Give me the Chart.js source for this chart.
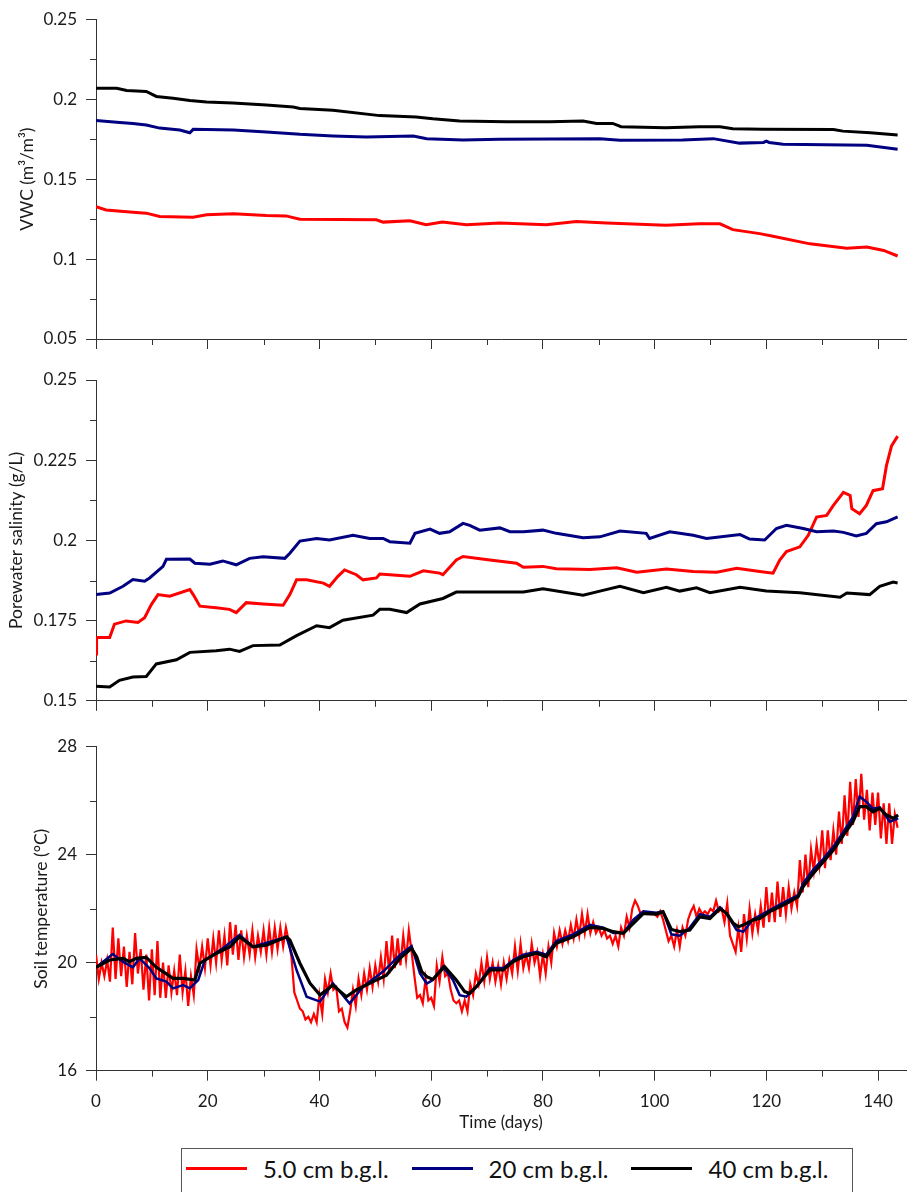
<!DOCTYPE html>
<html>
<head>
<meta charset="utf-8">
<title>Soil monitoring at three depths</title>
<script src="https://cdn.jsdelivr.net/npm/chart.js@4.4.1/dist/chart.umd.min.js"></script>
<style>
  html, body { margin: 0; padding: 0; background: #fff; }
  body { width: 907px; height: 1192px; position: relative; overflow: hidden; font-family: Lato, sans-serif; }
  canvas { position: absolute; left: 0; }
  #legend {
    position: absolute; left: 181px; top: 1148px; width: 672px; height: 70px;
    border: 1px solid #555; box-sizing: border-box;
    display: flex; align-items: center; padding: 0 0 30px 4px;
    font-family: Lato, sans-serif; font-size: 24px; color: #111;
  }
  .item { display: flex; align-items: center; margin-right: 23px; white-space: nowrap; }
  .item:nth-child(3) { margin-right: 0; }
  .swatch { width: 61px; height: 3px; margin-right: 16px; }
</style>
</head>
<body>
<canvas id="vwc" width="907" height="360" style="top:0px"></canvas>
<canvas id="sal" width="907" height="360" style="top:360px"></canvas>
<canvas id="temp" width="907" height="420" style="top:720px"></canvas>
<div id="legend"></div>
<script>
// ---- Series names and colours (sensor depth below ground level) ----
const depthLabels = ['5.0 cm b.g.l.', '20 cm b.g.l.', '40 cm b.g.l.'];
const depthColors = ['#ff0000', '#000080', '#000000'];

// ---- Shared time axis (days) ----
const dayTicks = [0, 20, 40, 60, 80, 100, 120, 140];
const dayMinor = [10, 30, 50, 70, 90, 110, 130];

// ---- Volumetric water content, m³/m³ : [day, value] ----
const vwcTicks = [0.05, 0.1, 0.15, 0.2, 0.25];
const vwcMinor = [0.075, 0.125, 0.175, 0.225];
const vwc5cm = [[0,0.1328],[1.8,0.1307],[6.6,0.1293],[9,0.1287],[11.4,0.1266],[17.4,0.1262],[19.8,0.1277],[24.6,0.1283],[30.5,0.1272],[34,0.127],[36.5,0.1249],[50.2,0.1246],[51.4,0.1231],[56.2,0.1239],[59.1,0.1215],[62,0.1231],[66.3,0.1215],[72.3,0.1225],[80.6,0.1215],[86,0.1235],[91.4,0.1225],[102,0.1211],[108,0.1221],[111.7,0.122],[114,0.1184],[118.8,0.1159],[121.2,0.1143],[127.8,0.1095],[134.4,0.1067],[138,0.1075],[141,0.1054],[143.5,0.1019]];
const vwc20cm = [[0,0.1867],[3.7,0.1856],[6.6,0.1848],[9,0.1838],[11.4,0.1819],[15,0.1807],[16.8,0.179],[17.4,0.1811],[24.6,0.1807],[30.5,0.1795],[36.5,0.178],[42.4,0.177],[48.4,0.1764],[56.8,0.177],[59.2,0.1753],[65.7,0.1745],[72.3,0.1749],[90.2,0.1753],[93.8,0.1743],[105,0.1745],[110.5,0.1753],[115.2,0.1725],[119.5,0.1729],[120,0.1737],[120.5,0.1729],[123,0.1718],[138,0.1712],[143.5,0.1687]];
const vwc40cm = [[0,0.2068],[3.7,0.2068],[5.5,0.2054],[9,0.2048],[10.8,0.2017],[13.8,0.2006],[16.8,0.1992],[19.8,0.1982],[24.5,0.1976],[30.5,0.1963],[35.3,0.1951],[36.5,0.1942],[42.4,0.193],[50.8,0.1897],[57.3,0.1889],[60.3,0.1877],[65.1,0.1863],[73.5,0.1858],[81.2,0.1858],[87.2,0.1863],[89.6,0.1848],[92.5,0.1848],[94,0.1828],[102,0.1821],[108,0.1828],[111.7,0.1828],[114,0.1815],[119.4,0.1811],[132,0.181],[133.7,0.18],[138.6,0.179],[143.5,0.1776]];

// ---- Porewater salinity, g/L : [day, value] ----
const salTicks = [0.15, 0.175, 0.2, 0.225, 0.25];
const salMinor = [0.1625, 0.1875, 0.2125, 0.2375];
const sal5cm = [[0,0.1646],[0.1,0.1697],[2.45,0.1697],[3.3,0.1739],[5.4,0.1749],[7.5,0.1744],[8.7,0.1759],[9.9,0.18],[11.1,0.1831],[13.2,0.1826],[16.8,0.1847],[17.4,0.1831],[18.6,0.1795],[21.5,0.179],[23.9,0.1785],[25.1,0.1775],[26.9,0.1806],[29.9,0.1802],[33.5,0.1798],[34.7,0.1831],[35.9,0.1877],[37.7,0.1877],[40.7,0.1867],[41.8,0.1857],[43.3,0.1888],[44.5,0.1908],[46.6,0.1893],[47.8,0.1877],[50.2,0.1883],[50.8,0.1895],[52.6,0.1893],[56.2,0.1888],[58.6,0.1905],[61.5,0.1898],[62.1,0.1893],[64.5,0.1939],[65.7,0.195],[70.5,0.1939],[75.3,0.1929],[76.5,0.1916],[80,0.1919],[82.4,0.1912],[88.4,0.1909],[93.2,0.1915],[96.8,0.1901],[102.1,0.1911],[106.9,0.1903],[111.1,0.1901],[114.7,0.1913],[118.8,0.1903],[121.2,0.1898],[122.4,0.1939],[123.6,0.1965],[126,0.198],[127.5,0.2016],[129,0.2073],[130.8,0.2078],[132,0.2109],[133.8,0.215],[135,0.214],[135.3,0.2099],[136.7,0.2083],[137.9,0.2109],[139.1,0.2155],[140.8,0.2161],[141.5,0.2233],[142.4,0.2294],[143.5,0.2325]];
const sal20cm = [[0,0.1831],[2.45,0.1836],[4.84,0.1857],[6.6,0.1878],[8.7,0.1873],[9.6,0.1883],[12,0.1919],[12.6,0.1941],[16.8,0.1942],[17.7,0.1929],[20.4,0.1926],[22.7,0.1936],[25.1,0.1924],[27.5,0.1944],[29.9,0.1949],[33.8,0.1944],[34.7,0.196],[36.5,0.1998],[39.5,0.2006],[41.8,0.2001],[46,0.2016],[49,0.2006],[51.4,0.2006],[52.6,0.1996],[56.2,0.1991],[57.1,0.2022],[59.8,0.2035],[61.5,0.2022],[63.3,0.2027],[65.7,0.2053],[66.9,0.2047],[68.7,0.2032],[72.3,0.2039],[74.1,0.2027],[76.5,0.2027],[80,0.2032],[82.4,0.2022],[87.2,0.2008],[90.2,0.2011],[93.8,0.2029],[98.5,0.2022],[99.1,0.2006],[102.7,0.2027],[106.9,0.2016],[109.3,0.2006],[115.3,0.2018],[117,0.2004],[119.7,0.2001],[121.8,0.2037],[123.6,0.2047],[126.6,0.2037],[129,0.2027],[132,0.2029],[133.8,0.2025],[136.1,0.2014],[137.9,0.2022],[139.7,0.2052],[141.5,0.2058],[143.5,0.2073]];
const sal40cm = [[0,0.1545],[2.45,0.1543],[4.2,0.1564],[6.6,0.1574],[9,0.1576],[10.8,0.1615],[14.4,0.1628],[16.8,0.1651],[21.5,0.1656],[23.9,0.1661],[25.7,0.1654],[28.1,0.1672],[32.9,0.1674],[35.9,0.1703],[39.5,0.1734],[41.8,0.1728],[44.2,0.1751],[49.6,0.1767],[50.8,0.1785],[52.6,0.1785],[55.6,0.1775],[58,0.1802],[62.1,0.1819],[64.5,0.1839],[70.5,0.1839],[76.5,0.1839],[80,0.1849],[87.2,0.1829],[90.2,0.1842],[93.8,0.1857],[98,0.1837],[102.1,0.1854],[104.5,0.1842],[107.5,0.1852],[109.9,0.1837],[115.3,0.1854],[120,0.1842],[126,0.1837],[133.2,0.1823],[134.4,0.1836],[138.5,0.1831],[140.3,0.1857],[142.7,0.187],[143.5,0.1867]];

// ---- Soil temperature, °C ----
const tempTicks = [16, 20, 24, 28];
const tempMinor = [18, 22, 26];
// 5 cm sensor: readings every half day, starting at day 0
const tempStep5cm = 0.5;
const temp5cm = [
  20.3,19.4, 20.0,19.5, 20.1,19.3, 21.3,19.4, 20.9,19.5, 20.6,19.1, 20.4,19.2, 21.1,19.6, 20.5,19.0, 20.3,18.6,
  20.5,18.8, 20.8,18.7, 20.0,18.7, 19.9,18.9, 19.7,18.8, 20.3,18.9, 19.7,18.4, 19.5,18.8, 20.5,19.8, 20.6,19.8,
  20.9,19.9, 20.9,20.0, 21.2,20.1, 21.0,19.9, 21.5,20.3, 21.4,20.1, 21.2,20.2, 21.0,20.3, 21.2,20.2, 21.0,20.4,
  21.2,20.3, 21.3,20.4, 21.3,20.5, 21.3,20.6, 21.3,20.8, 20.2,18.9, 18.6,18.3, 18.2,17.9, 18.0,17.8, 18.1,17.8,
  18.8,18.1, 19.4,18.9, 19.6,19.0, 19.1,18.2, 18.3,17.8, 17.6,18.2, 19.0,18.4, 19.4,18.8, 19.6,19.0, 19.8,19.1,
  19.9,19.3, 20.2,19.4, 20.8,19.6, 21.0,19.8, 20.9,19.9, 21.0,20.1, 21.2,20.4, 19.5,18.7, 18.8,18.5, 19.4,18.6,
  18.7,18.4, 19.9,19.3, 20.2,19.5, 19.6,19.0, 18.6,18.5, 18.6,18.2, 18.6,18.2, 19.2,18.8, 19.6,19.2, 20.0,19.3,
  20.2,19.4, 20.0,19.3, 19.9,19.2, 20.0,19.4, 20.1,19.6, 20.6,19.7, 20.7,19.8, 20.3,19.8, 20.7,20.0, 20.4,19.5,
  20.3,19.6, 20.6,20.0, 21.1,20.6, 21.2,20.7, 21.2,20.8, 21.4,20.9, 21.6,21.0, 21.8,21.1, 21.8,21.1, 21.5,21.1,
  21.3,21.0, 21.2,20.9, 21.0,20.7, 21.0,20.6, 21.3,21.0, 21.7,21.3, 22.0,22.3, 22.1,21.8, 21.9,21.8, 21.8,21.8,
  21.8,21.7, 21.9,21.6, 21.2,20.8, 21.0,20.6, 21.2,20.6, 21.3,21.0, 21.6,21.9, 22.1,21.7, 22.0,21.8, 21.9,21.8,
  22.0,21.9, 22.3,21.9, 22.0,21.5, 22.2,21.0, 20.7,20.4, 21.3,20.4, 21.8,20.9, 22.0,21.1, 21.8,21.2, 22.1,21.3,
  22.8,21.5, 22.6,21.5, 23.0,21.7, 22.8,21.8, 22.8,22.0, 22.6,22.1, 23.8,22.6, 24.0,22.8, 24.2,23.4, 24.4,23.6,
  24.9,23.5, 24.9,23.8, 24.9,24.0, 25.6,24.4, 26.2,24.7, 26.7,25.1, 26.8,25.4, 27.0,25.3, 26.4,24.9, 26.3,25.1,
  26.3,24.6, 25.9,24.4, 25.9,24.4, 25.5,25.0
];
const temp20cm = [[0,19.83],[3,20.32],[4.8,20.04],[6.6,19.83],[7.8,20.16],[9.6,19.79],[10.8,19.42],[12.6,19.3],[13.8,19.05],[15.6,19.17],[16.8,19.05],[18.3,19.36],[19.5,20.1],[22.7,20.53],[25.7,21.03],[28.1,20.59],[32.3,20.84],[34.1,20.96],[35.9,19.73],[37.7,18.74],[40.1,18.56],[42.4,19.24],[45.4,18.49],[47.8,19.11],[51.4,19.67],[54.4,20.29],[56.5,20.62],[58,19.6],[59.2,19.23],[60.3,19.36],[62.1,19.85],[63.9,19.36],[65.1,18.8],[66.3,18.74],[68.1,19.11],[70.5,19.8],[72.9,19.8],[74.7,20.1],[76.5,20.3],[78.9,20.4],[80.6,20.3],[82.4,20.8],[85.4,21.05],[88.4,21.4],[90.8,21.3],[92.6,21.1],[94.4,21.1],[96.2,21.6],[98,21.9],[100.3,21.85],[101.5,21.9],[103,21.05],[104.5,21.0],[106.3,21.3],[108.1,21.8],[109.9,21.7],[111.7,22.05],[112.9,21.8],[114.7,21.21],[115.9,21.15],[117.6,21.6],[120.6,21.95],[122.4,22.15],[124.2,22.35],[125.7,22.5],[126.6,22.95],[128.4,23.45],[130.2,23.85],[132,24.3],[133.8,24.85],[135.5,25.4],[136.7,26.15],[137.9,25.96],[139.1,25.7],[140.3,25.75],[142.1,25.22],[143.6,25.35]];
const temp40cm = [[0,19.83],[2.45,20.1],[4.84,20.16],[6,20.04],[7.2,20.16],[9,20.2],[10.8,19.83],[12,19.67],[13.8,19.42],[15.6,19.42],[17.7,19.36],[18.6,19.98],[21.6,20.35],[24,20.59],[25.7,20.96],[28.1,20.59],[30.5,20.65],[34.1,20.96],[34.7,20.84],[36.5,19.98],[38.3,19.24],[40.1,18.8],[42.4,19.17],[44.8,18.74],[46.6,18.99],[49.6,19.3],[52,19.54],[54.4,20.16],[56.5,20.53],[57.4,20.22],[58.3,19.67],[59.2,19.48],[60.3,19.38],[62.4,19.85],[64.5,19.36],[66,18.93],[66.9,18.86],[68.1,19.11],[70.5,19.73],[72.9,19.73],[74.7,20.04],[76.5,20.22],[78.9,20.35],[80.6,20.22],[82.4,20.72],[85.4,20.96],[88.4,21.31],[90.8,21.27],[92.6,21.15],[94.4,21.09],[96.2,21.46],[98,21.83],[100.3,21.8],[101.5,21.89],[103,21.23],[104.5,21.15],[106.3,21.21],[108.1,21.7],[109.9,21.64],[111.7,22.0],[112.9,21.83],[114.1,21.46],[115,21.33],[115.9,21.4],[117.6,21.58],[118.8,21.64],[120.6,21.89],[122.4,22.07],[124.2,22.26],[125.7,22.45],[126.6,22.82],[128.4,23.31],[130.2,23.74],[132,24.17],[133.8,24.73],[135.5,25.22],[136.7,25.78],[137.9,25.78],[139.1,25.59],[140.3,25.72],[141.5,25.47],[142.7,25.35],[143.6,25.47]];

// ---- Styling ----
const FONT = 'Lato, sans-serif';
const AXIS = '#333333';
const TEXT = '#1a1a1a';

const toPoints = pairs => pairs.map(([x, y]) => ({ x, y }));
const sampled = (values, step) => values.map((y, i) => ({ x: i * step, y }));

// Short unlabeled ticks between the labelled ones
const minorTicks = {
  id: 'minorTicks',
  afterDraw(chart, args, opts) {
    const { ctx, scales: { x, y } } = chart;
    ctx.save();
    ctx.strokeStyle = AXIS;
    ctx.lineWidth = 1;
    ctx.beginPath();
    for (const v of opts.x || []) {
      const px = Math.round(x.getPixelForValue(v)) + 0.5;
      ctx.moveTo(px, x.top);
      ctx.lineTo(px, x.top + opts.length);
    }
    for (const v of opts.y || []) {
      const py = Math.round(y.getPixelForValue(v)) + 0.5;
      ctx.moveTo(y.right - opts.length, py);
      ctx.lineTo(y.right, py);
    }
    ctx.stroke();
    ctx.restore();
  }
};

function makeDatasets(series, widths) {
  return series.map((data, i) => ({
    label: depthLabels[i],
    data,
    borderColor: depthColors[i],
    backgroundColor: depthColors[i],
    borderWidth: widths[i],
    pointRadius: 0,
    tension: 0,
    fill: false,
    order: 3 - i
  }));
}

function makePanel(id, cfg) {
  return new Chart(document.getElementById(id), {
    type: 'line',
    data: { datasets: makeDatasets(cfg.series, cfg.widths) },
    plugins: [minorTicks],
    options: {
      responsive: false,
      animation: false,
      events: [],
      parsing: false,
      layout: { padding: { top: cfg.padTop, right: 1, left: 0, bottom: 0 } },
      plugins: {
        legend: { display: false },
        tooltip: { enabled: false },
        minorTicks: { x: dayMinor, y: cfg.yMinor, length: 6 }
      },
      scales: {
        x: {
          type: 'linear', min: 0, max: 145, position: 'bottom',
          afterBuildTicks: s => { s.ticks = dayTicks.map(v => ({ value: v })); },
          afterFit: s => { s.height = cfg.xHeight; },
          grid: { drawOnChartArea: false, drawTicks: true, tickLength: 10, color: AXIS, tickColor: AXIS },
          border: { display: true, color: AXIS, width: 1 },
          ticks: {
            display: cfg.showX, autoSkip: false, maxRotation: 0, padding: 11,
            font: { family: FONT, size: 17 }, color: TEXT,
            callback: v => String(v)
          },
          title: {
            display: cfg.showX, text: 'Time (days)', color: TEXT,
            font: { family: FONT, size: 17 }, padding: { top: 0, bottom: 7 }
          }
        },
        y: {
          type: 'linear', position: 'left',
          min: cfg.yTicks[0], max: cfg.yTicks[cfg.yTicks.length - 1],
          afterBuildTicks: s => { s.ticks = cfg.yTicks.map(v => ({ value: v })); },
          afterFit: s => { s.width = 96; },
          grid: { drawOnChartArea: false, drawTicks: true, tickLength: 10, color: AXIS, tickColor: AXIS },
          border: { display: true, color: AXIS, width: 1 },
          ticks: {
            autoSkip: false, padding: 9,
            font: { family: FONT, size: 17 }, color: TEXT,
            callback: v => String(v)
          },
          title: {
            display: true, text: cfg.yTitle, color: TEXT,
            font: { family: FONT, size: 17.5 }, padding: { top: cfg.titlePad, bottom: 0 }
          }
        }
      }
    }
  });
}

makePanel('vwc', {
  series: [toPoints(vwc5cm), toPoints(vwc20cm), toPoints(vwc40cm)],
  widths: [3, 3, 3],
  yTicks: vwcTicks, yMinor: vwcMinor, yTitle: 'VWC (m³/m³)',
  padTop: 15, xHeight: 21, showX: false, titlePad: 16.5
});

makePanel('sal', {
  series: [toPoints(sal5cm), toPoints(sal20cm), toPoints(sal40cm)],
  widths: [3, 3, 3],
  yTicks: salTicks, yMinor: salMinor, yTitle: 'Porewater salinity (g/L)',
  padTop: 20, xHeight: 16, showX: false, titlePad: 5.5
});

makePanel('temp', {
  series: [sampled(temp5cm, tempStep5cm), toPoints(temp20cm), toPoints(temp40cm)],
  widths: [2.2, 2.5, 3.2],
  yTicks: tempTicks, yMinor: tempMinor, yTitle: 'Soil temperature (°C)',
  padTop: 26.7, xHeight: 69.3, showX: true, titlePad: 30.5
});

// Boxed legend under the panels
const legend = document.getElementById('legend');
depthLabels.forEach((label, i) => {
  const item = document.createElement('div');
  item.className = 'item';
  const sw = document.createElement('span');
  sw.className = 'swatch';
  sw.style.background = depthColors[i];
  const txt = document.createElement('span');
  txt.textContent = label;
  item.appendChild(sw);
  item.appendChild(txt);
  legend.appendChild(item);
});
</script>
</body>
</html>
